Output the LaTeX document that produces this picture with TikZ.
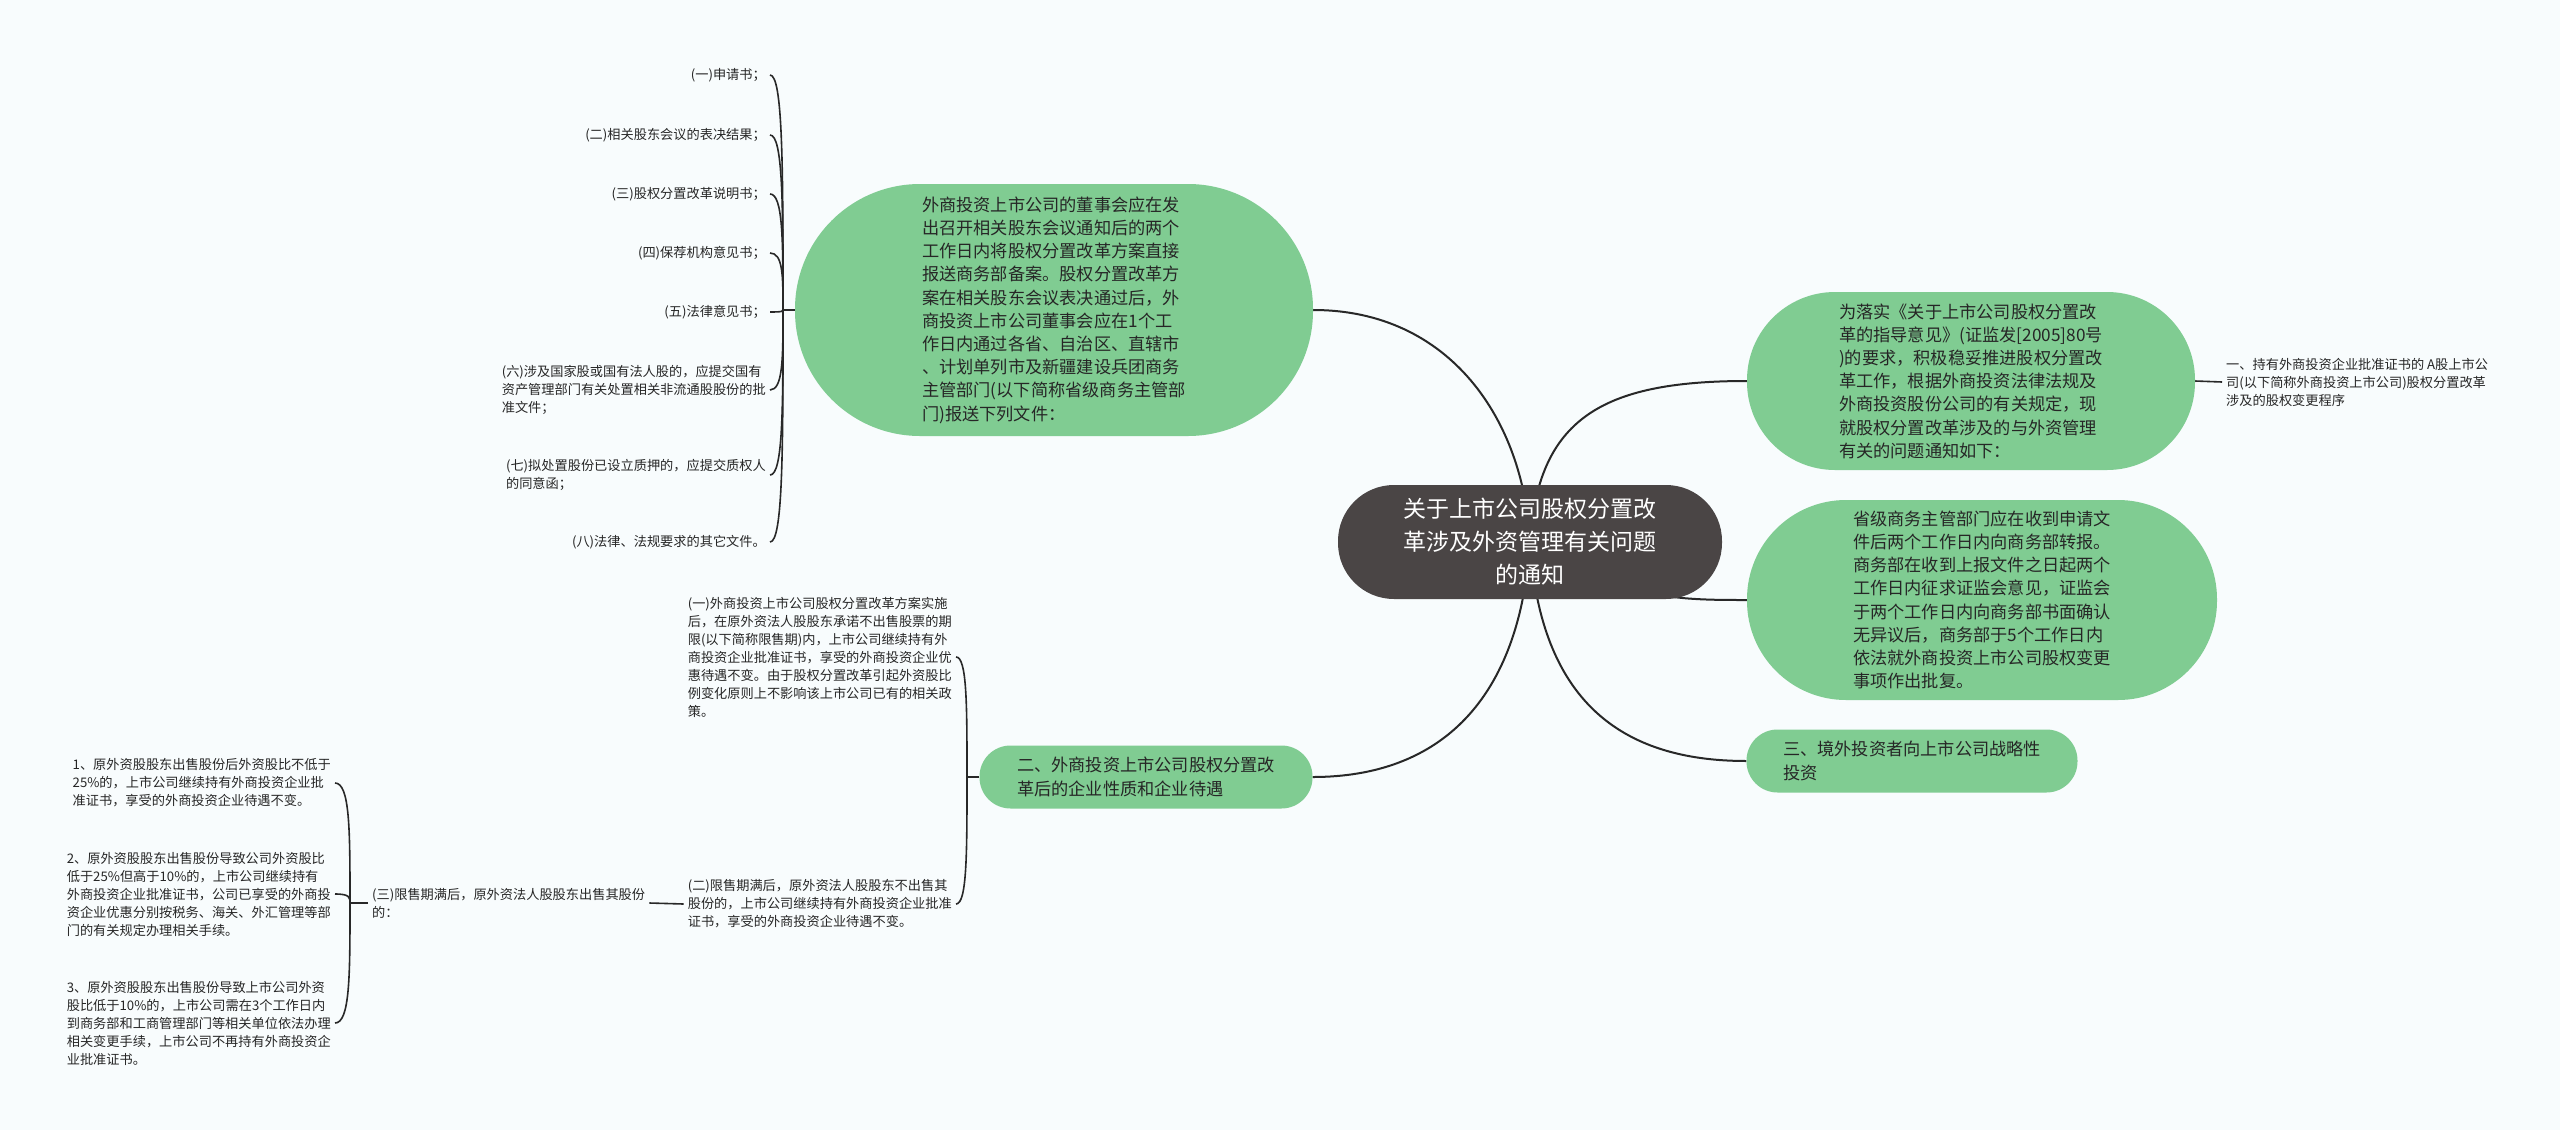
\documentclass[tikz,border=0pt]{standalone}
\usepackage{fontspec}
\setmainfont{Noto Sans CJK SC}
\usetikzlibrary{calc}
\definecolor{bgc}{RGB}{248,252,253}
\definecolor{gfill}{RGB}{128,204,146}
\definecolor{cfill}{RGB}{74,69,69}
\definecolor{lnc}{RGB}{40,40,40}
\definecolor{txt}{RGB}{38,38,38}
\pgfdeclarelayer{bglayer}
\pgfdeclarelayer{edgelayer}
\pgfsetlayers{bglayer,edgelayer,main}
\begin{document}
\begin{tikzpicture}[x=1pt,y=-1pt,
  centernode/.style={fill=cfill,text=white,rounded corners=56pt,minimum width=384pt,minimum height=114pt,align=center,font=\fontsize{23}{33}\selectfont,inner sep=0pt},
  gnode/.style={fill=gfill,text=txt,align=left,font=\fontsize{17.2}{23.2}\selectfont,inner sep=0pt},
  leaf/.style={text=txt,align=left,font=\fontsize{13.2}{18}\selectfont,inner xsep=4pt,inner ysep=1pt},
  mainline/.style={draw=lnc,line width=2pt},
  leafline/.style={draw=lnc,line width=1.6pt},
]
\begin{pgfonlayer}{bglayer}
\fill[bgc] (0,0) rectangle (2560,1130);
\end{pgfonlayer}
\useasboundingbox (0,0) rectangle (2560,1130);

% center
\node[centernode] (c0) at (1530,542) {关于上市公司股权分置改\\革涉及外资管理有关问题\\的通知};

% green branches
\node[gnode,minimum width=518pt,minimum height=252pt,rounded corners=125pt] (A) at (1054,310)
{外商投资上市公司的董事会应在发\\出召开相关股东会议通知后的两个\\工作日内将股权分置改革方案直接\\报送商务部备案。股权分置改革方\\案在相关股东会议表决通过后，外\\商投资上市公司董事会应在1个工\\作日内通过各省、自治区、直辖市\\、计划单列市及新疆建设兵团商务\\主管部门(以下简称省级商务主管部\\门)报送下列文件：};
\node[gnode,minimum width=448pt,minimum height=178pt,rounded corners=88pt] (B) at (1971,381)
{为落实《关于上市公司股权分置改\\革的指导意见》(证监发[2005]80号\\)的要求，积极稳妥推进股权分置改\\革工作，根据外商投资法律法规及\\外商投资股份公司的有关规定，现\\就股权分置改革涉及的与外资管理\\有关的问题通知如下：};
\node[gnode,minimum width=470pt,minimum height=200pt,rounded corners=99pt] (C) at (1982,600)
{省级商务主管部门应在收到申请文\\件后两个工作日内向商务部转报。\\商务部在收到上报文件之日起两个\\工作日内征求证监会意见，证监会\\于两个工作日内向商务部书面确认\\无异议后，商务部于5个工作日内\\依法就外商投资上市公司股权变更\\事项作出批复。};
\node[gnode,minimum width=331pt,minimum height=63pt,rounded corners=31pt] (D) at (1912,761)
{三、境外投资者向上市公司战略性\\投资};
\node[gnode,minimum width=333pt,minimum height=63pt,rounded corners=31pt] (E) at (1146,777)
{二、外商投资上市公司股权分置改\\革后的企业性质和企业待遇};

% leaves of A
\node[leaf,anchor=east] (a1) at (770,75) {(一)申请书；};
\node[leaf,anchor=east] (a2) at (770,135) {(二)相关股东会议的表决结果；};
\node[leaf,anchor=east] (a3) at (770,194) {(三)股权分置改革说明书；};
\node[leaf,anchor=east] (a4) at (770,253) {(四)保荐机构意见书；};
\node[leaf,anchor=east] (a5) at (770,312) {(五)法律意见书；};
\node[leaf,anchor=east] (a6) at (770,390) {(六)涉及国家股或国有法人股的，应提交国有\\资产管理部门有关处置相关非流通股股份的批\\准文件；};
\node[leaf,anchor=east] (a7) at (770,475) {(七)拟处置股份已设立质押的，应提交质权人\\的同意函；};
\node[leaf,anchor=east] (a8) at (770,542) {(八)法律、法规要求的其它文件。};

% leaf of B
\node[leaf,anchor=west] (b1) at (2222,382) {一、持有外商投资企业批准证书的 A股上市公\\司(以下简称外商投资上市公司)股权分置改革\\涉及的股权变更程序};

% leaves of E
\node[leaf,anchor=east] (e1) at (956,657) {(一)外商投资上市公司股权分置改革方案实施\\后，在原外资法人股股东承诺不出售股票的期\\限(以下简称限售期)内，上市公司继续持有外\\商投资企业批准证书，享受的外商投资企业优\\惠待遇不变。由于股权分置改革引起外资股比\\例变化原则上不影响该上市公司已有的相关政\\策。};
\node[leaf,anchor=east] (e2) at (956,904) {(二)限售期满后，原外资法人股股东不出售其\\股份的，上市公司继续持有外商投资企业批准\\证书，享受的外商投资企业待遇不变。};
\node[leaf,anchor=west] (e3) at (368,903) {(三)限售期满后，原外资法人股股东出售其股份\\的：};
\node[leaf,anchor=east] (n1) at (335,783) {1、原外资股股东出售股份后外资股比不低于\\25\%的，上市公司继续持有外商投资企业批\\准证书，享受的外商投资企业待遇不变。};
\node[leaf,anchor=east] (n2) at (335,894) {2、原外资股股东出售股份导致公司外资股比\\低于25\%但高于10\%的，上市公司继续持有\\外商投资企业批准证书，公司已享受的外商投\\资企业优惠分别按税务、海关、外汇管理等部\\门的有关规定办理相关手续。};
\node[leaf,anchor=east] (n3) at (335,1023) {3、原外资股股东出售股份导致上市公司外资\\股比低于10\%的，上市公司需在3个工作日内\\到商务部和工商管理部门等相关单位依法办理\\相关变更手续，上市公司不再持有外商投资企\\业批准证书。};

\coordinate (pa) at (783,310);
\coordinate (pe) at (967,777);
\coordinate (p3) at (350,903);

\begin{pgfonlayer}{edgelayer}
% main connectors
\draw[mainline] (A.east) .. controls (1450,310) and (1524,420) .. (c0.center);
\draw[mainline] (c0.center) .. controls (1538,420) and (1600,381) .. (B.west);
\draw[mainline] (c0.center) .. controls (1620,600) and (1680,600) .. (C.west);
\draw[mainline] (c0.center) .. controls (1540,700) and (1620,761) .. (D.west);
\draw[mainline] (c0.center) .. controls (1520,700) and (1440,777) .. (E.east);
% A bracket
\draw[leafline] (A.west) -- (pa);
\foreach \n in {a1,a2,a3,a4,a5,a6,a7,a8}
  \draw[leafline] (pa) .. controls ($(pa)!0.6!(pa |- \n.east)$) and (pa |- \n.east) .. (\n.east);
% B leaf
\draw[leafline] (B.east) -- (b1.west);
% E bracket
\draw[leafline] (E.west) -- (pe);
\foreach \n in {e1,e2}
  \draw[leafline] (pe) .. controls ($(pe)!0.6!(pe |- \n.east)$) and (pe |- \n.east) .. (\n.east);
\draw[leafline] (e2.west) -- (e3.east);
\draw[leafline] (e3.west) -- (p3);
\foreach \n in {n1,n2,n3}
  \draw[leafline] (p3) .. controls ($(p3)!0.6!(p3 |- \n.east)$) and (p3 |- \n.east) .. (\n.east);
\end{pgfonlayer}
\end{tikzpicture}
\end{document}
